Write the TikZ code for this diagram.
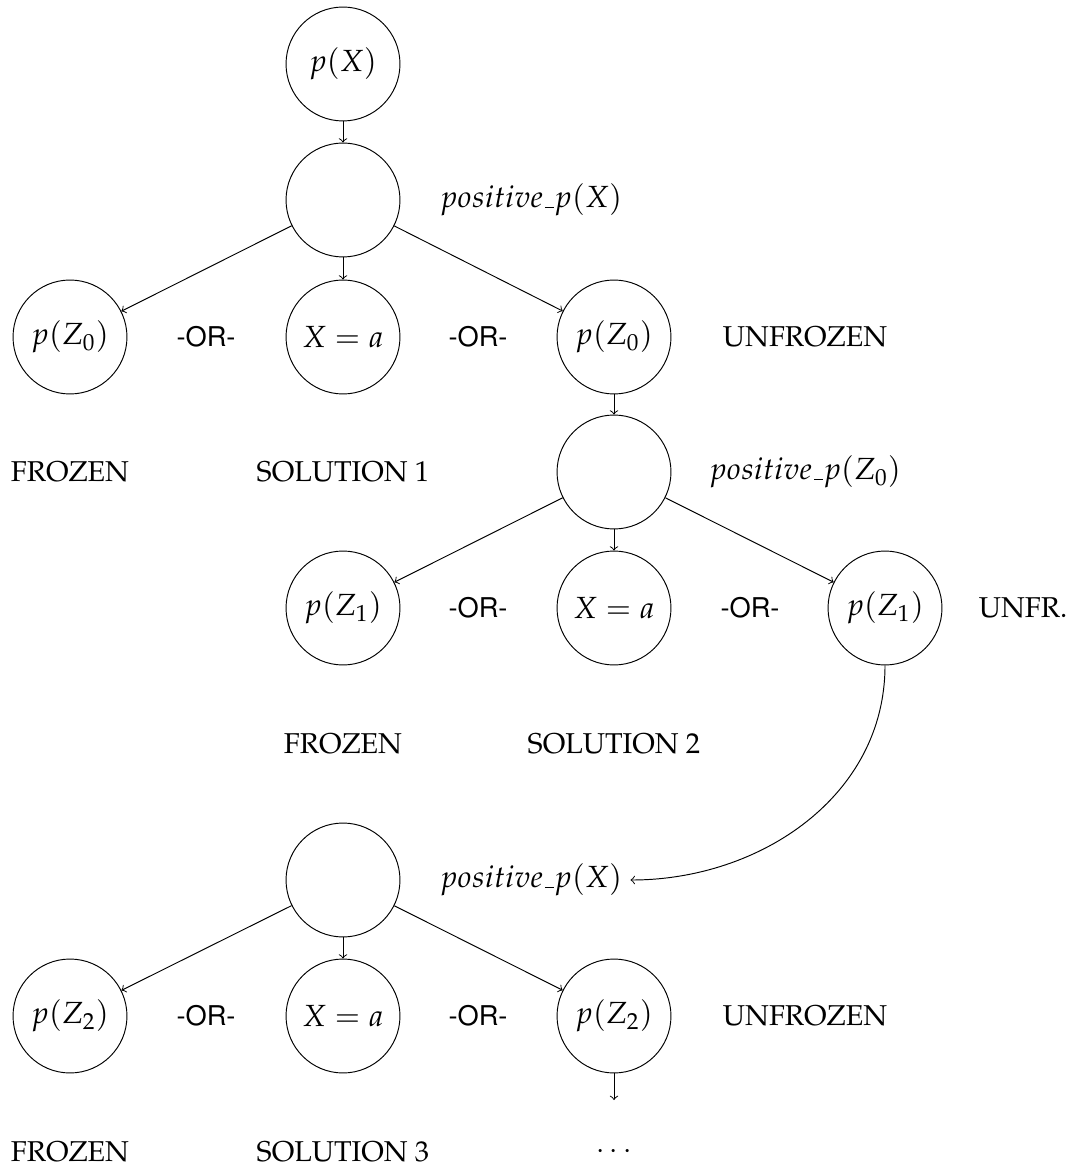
\documentclass[tikz,border=0pt]{standalone}
\usepackage[T1]{fontenc}
\usepackage{mathpazo}
\usepackage[scaled=0.95]{helvet}
% short underscore as in the classic \_ definition
\newcommand{\lowbar}{\mbox{\kern.06em\vbox{\hrule width.3em}}}
\begin{document}
\begin{tikzpicture}[x=0.014706cm,y=-0.014706cm,
  font=\fontsize{12}{14}\selectfont,
  mtext/.style={font=\fontsize{12.8}{15}\selectfont},
  state/.style={circle,draw,minimum size=1.676cm,inner sep=0pt,mtext},
  orlab/.style={font=\fontsize{12}{14}\selectfont\sffamily},
  arr/.style={->}]
\useasboundingbox (0,0) rectangle (1073,1171);

% first goal and its resolvent
\node[state] (top) at (343,64) {$p(X)$};
\node[state] (g1) at (343,200) {};
\node[mtext] (l1) at (531,200) {$positive\lowbar p(X)$};

% first level of alternatives
\node[state] (f1) at (70,337) {$p(Z_0)$};
\node[orlab] (o11) at (206,337) {-OR-};
\node[state] (s1) at (343,337) {$X=a$};
\node[orlab] (o12) at (478,337) {-OR-};
\node[state] (u1) at (614,337) {$p(Z_0)$};
\node (n1) at (805,337) {UNFROZEN};
\node (fz1) at (70,472) {FROZEN};
\node (sl1) at (343,472) {SOLUTION 1};

% second level
\node[state] (g2) at (614,472) {};
\node[mtext] (l2) at (805,472) {$positive\lowbar p(Z_0)$};
\node[state] (f2) at (343,608) {$p(Z_1)$};
\node[orlab] (o21) at (478,608) {-OR-};
\node[state] (s2) at (614,608) {$X=a$};
\node[orlab] (o22) at (750,608) {-OR-};
\node[state] (u2) at (885,608) {$p(Z_1)$};
\node (n2) at (1023,608) {UNFR.};
\node (fz2) at (343,744) {FROZEN};
\node (sl2) at (614,744) {SOLUTION 2};

% third level
\node[state] (g3) at (343,880) {};
\node[mtext] (l3) at (531,880) {$positive\lowbar p(X)$};
\node[state] (f3) at (70,1016) {$p(Z_2)$};
\node[orlab] (o31) at (206,1016) {-OR-};
\node[state] (s3) at (343,1016) {$X=a$};
\node[orlab] (o32) at (478,1016) {-OR-};
\node[state] (u3) at (614,1016) {$p(Z_2)$};
\node (n3) at (805,1016) {UNFROZEN};
\node (fz3) at (70,1152) {FROZEN};
\node (sl3) at (343,1152) {SOLUTION 3};
\node (dots) at (614,1152) {$\cdots$};
\coordinate (tail) at (614,1100);

% connectors
\draw[arr] (top) -- (g1);
\draw[arr] (g1) -- (f1);
\draw[arr] (g1) -- (s1);
\draw[arr] (g1) -- (u1);
\draw[arr] (u1) -- (g2);
\draw[arr] (g2) -- (f2);
\draw[arr] (g2) -- (s2);
\draw[arr] (g2) -- (u2);
\draw[arr] (u2.south) to[out=-90,in=0] (l3.east);
\draw[arr] (g3) -- (f3);
\draw[arr] (g3) -- (s3);
\draw[arr] (g3) -- (u3);
\draw[arr] (u3) -- (tail);
\end{tikzpicture}
\end{document}
